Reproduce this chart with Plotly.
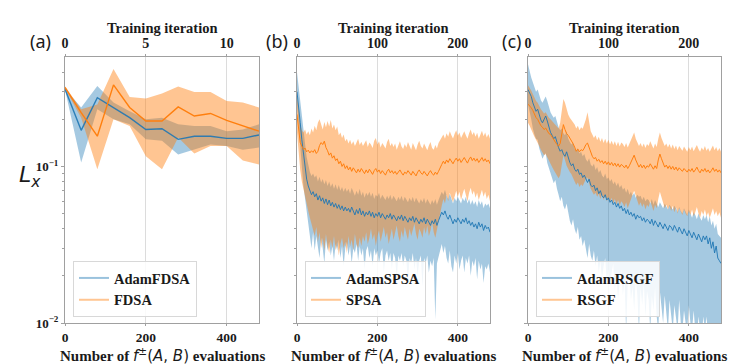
import plotly.graph_objects as go

# ---------------- data ----------------
# panel (a): 13 training iterations, 40 evaluations each
evals_a = [0, 40, 80, 120, 160, 200, 240, 280, 320, 360, 400, 440, 480]
adamfdsa_mean = [0.312, 0.170, 0.275, 0.238, 0.205, 0.172, 0.174, 0.149, 0.156, 0.156, 0.151, 0.151, 0.159]
adamfdsa_hi = [0.314, 0.238, 0.327, 0.256, 0.225, 0.200, 0.205, 0.186, 0.181, 0.181, 0.168, 0.172, 0.186]
adamfdsa_lo = [0.310, 0.106, 0.232, 0.200, 0.186, 0.149, 0.146, 0.119, 0.128, 0.138, 0.135, 0.128, 0.132]
fdsa_mean = [0.320, 0.221, 0.156, 0.332, 0.238, 0.195, 0.195, 0.240, 0.210, 0.218, 0.197, 0.181, 0.168]
fdsa_hi = [0.325, 0.232, 0.249, 0.419, 0.278, 0.272, 0.292, 0.324, 0.299, 0.299, 0.262, 0.256, 0.238]
fdsa_lo = [0.315, 0.205, 0.096, 0.200, 0.181, 0.116, 0.096, 0.153, 0.121, 0.135, 0.135, 0.109, 0.103]

# panels (b), (c): evaluations 0..480 every 4 (2 evaluations per iteration)
evals_bc = list(range(0, 481, 4))

adamspsa_mean = [0.300,0.245,0.190,0.148,0.118,0.097,0.083,0.075,0.071,0.066,
 0.069,0.064,0.067,0.061,0.065,0.060,0.063,0.058,0.062,0.057,
 0.061,0.056,0.059,0.055,0.058,0.054,0.057,0.053,0.056,0.052,
 0.055,0.052,0.054,0.051,0.055,0.052,0.049,0.053,0.050,0.054,
 0.049,0.052,0.048,0.051,0.049,0.052,0.048,0.051,0.047,0.050,
 0.048,0.051,0.047,0.050,0.048,0.046,0.049,0.047,0.050,0.046,
 0.049,0.047,0.045,0.048,0.046,0.049,0.045,0.048,0.046,0.044,
 0.047,0.045,0.048,0.044,0.047,0.045,0.043,0.046,0.044,0.047,
 0.043,0.046,0.044,0.042,0.045,0.043,0.046,0.042,0.045,0.048,
 0.051,0.049,0.052,0.048,0.046,0.049,0.045,0.043,0.046,0.044,
 0.047,0.045,0.043,0.046,0.044,0.047,0.043,0.045,0.042,0.044,
 0.041,0.043,0.040,0.044,0.041,0.043,0.039,0.042,0.040,0.041,
 0.038]
adamspsa_hi = [0.400,0.330,0.270,0.215,0.170,0.140,0.115,0.100,0.092,0.087,
 0.090,0.085,0.088,0.080,0.086,0.079,0.083,0.077,0.082,0.075,
 0.080,0.074,0.078,0.072,0.077,0.071,0.076,0.070,0.074,0.069,
 0.073,0.069,0.072,0.067,0.073,0.069,0.065,0.070,0.066,0.072,
 0.065,0.069,0.063,0.068,0.065,0.069,0.064,0.068,0.062,0.066,
 0.064,0.068,0.062,0.066,0.064,0.061,0.065,0.062,0.066,0.061,
 0.065,0.062,0.060,0.064,0.061,0.065,0.060,0.064,0.061,0.059,
 0.063,0.060,0.064,0.059,0.063,0.060,0.058,0.062,0.059,0.063,
 0.058,0.062,0.059,0.057,0.061,0.058,0.062,0.057,0.061,0.065,
 0.069,0.066,0.071,0.065,0.062,0.067,0.061,0.058,0.063,0.060,
 0.064,0.061,0.058,0.063,0.060,0.064,0.058,0.062,0.057,0.061,
 0.057,0.060,0.055,0.061,0.057,0.060,0.054,0.058,0.056,0.058,
 0.054]
adamspsa_lo = [0.250,0.200,0.140,0.100,0.075,0.058,0.048,0.042,0.036,0.030,
 0.038,0.029,0.036,0.031,0.026,0.035,0.030,0.024,0.034,0.029,
 0.033,0.027,0.031,0.025,0.032,0.029,0.034,0.026,0.031,0.023,
 0.030,0.033,0.027,0.031,0.024,0.030,0.028,0.032,0.025,0.031,
 0.027,0.030,0.022,0.029,0.031,0.026,0.029,0.023,0.030,0.027,
 0.029,0.024,0.028,0.030,0.021,0.027,0.029,0.025,0.028,0.022,
 0.028,0.026,0.019,0.027,0.025,0.028,0.023,0.027,0.025,0.018,
 0.026,0.024,0.028,0.022,0.026,0.020,0.025,0.027,0.017,0.026,
 0.024,0.027,0.021,0.025,0.023,0.026,0.0105,0.024,0.027,0.029,
 0.032,0.028,0.031,0.026,0.024,0.029,0.023,0.021,0.027,0.024,
 0.028,0.022,0.025,0.027,0.021,0.026,0.024,0.027,0.020,0.025,
 0.023,0.026,0.019,0.025,0.022,0.024,0.018,0.023,0.022,0.024,
 0.021]
spsa_mean = [0.215,0.175,0.142,0.135,0.128,0.131,0.124,0.127,0.122,0.126,
 0.123,0.128,0.121,0.125,0.136,0.142,0.138,0.145,0.132,0.126,
 0.118,0.122,0.113,0.117,0.109,0.112,0.104,0.108,0.100,0.104,
 0.097,0.101,0.095,0.099,0.093,0.098,0.094,0.091,0.096,0.092,
 0.097,0.093,0.090,0.095,0.091,0.096,0.092,0.089,0.094,0.097,
 0.092,0.095,0.090,0.094,0.091,0.088,0.093,0.096,0.091,0.094,
 0.090,0.093,0.089,0.092,0.095,0.091,0.088,0.092,0.090,0.094,
 0.091,0.088,0.093,0.090,0.087,0.092,0.095,0.091,0.089,0.093,
 0.090,0.087,0.091,0.094,0.090,0.088,0.092,0.089,0.093,0.097,
 0.103,0.108,0.104,0.110,0.106,0.112,0.107,0.104,0.109,0.113,
 0.108,0.112,0.106,0.110,0.114,0.109,0.105,0.111,0.115,0.109,
 0.113,0.108,0.112,0.106,0.110,0.114,0.108,0.112,0.107,0.110,
 0.104]
spsa_hi = [0.280,0.240,0.185,0.170,0.165,0.172,0.160,0.168,0.158,0.175,
 0.165,0.182,0.170,0.190,0.200,0.185,0.172,0.192,0.178,0.195,
 0.180,0.198,0.175,0.185,0.170,0.180,0.158,0.165,0.152,0.160,
 0.145,0.150,0.140,0.148,0.138,0.145,0.135,0.142,0.150,0.137,
 0.144,0.135,0.140,0.147,0.133,0.142,0.138,0.131,0.146,0.152,
 0.138,0.145,0.132,0.141,0.136,0.130,0.143,0.150,0.135,0.141,
 0.133,0.140,0.128,0.137,0.145,0.134,0.129,0.139,0.132,0.143,
 0.136,0.128,0.141,0.133,0.127,0.138,0.146,0.135,0.130,0.140,
 0.132,0.127,0.136,0.143,0.131,0.128,0.137,0.130,0.141,0.148,
 0.152,0.160,0.150,0.163,0.155,0.168,0.158,0.151,0.162,0.170,
 0.157,0.165,0.152,0.161,0.168,0.158,0.150,0.163,0.172,0.159,
 0.166,0.155,0.164,0.150,0.160,0.169,0.156,0.165,0.153,0.161,
 0.150]
spsa_lo = [0.165,0.125,0.095,0.080,0.070,0.064,0.058,0.052,0.047,0.043,
 0.040,0.036,0.041,0.033,0.038,0.030,0.035,0.029,0.037,0.031,
 0.028,0.034,0.030,0.036,0.029,0.033,0.027,0.032,0.035,0.030,
 0.033,0.028,0.036,0.031,0.034,0.029,0.037,0.032,0.030,0.035,
 0.031,0.036,0.033,0.038,0.032,0.035,0.040,0.034,0.037,0.031,
 0.036,0.039,0.033,0.037,0.041,0.035,0.038,0.032,0.036,0.040,
 0.034,0.038,0.042,0.036,0.033,0.039,0.035,0.041,0.037,0.034,
 0.040,0.036,0.039,0.043,0.037,0.034,0.040,0.038,0.035,0.041,
 0.037,0.042,0.036,0.039,0.044,0.038,0.035,0.041,0.045,0.050,
 0.056,0.062,0.058,0.066,0.060,0.068,0.063,0.059,0.065,0.070,
 0.064,0.069,0.061,0.067,0.072,0.065,0.060,0.068,0.073,0.066,
 0.070,0.063,0.068,0.061,0.066,0.071,0.064,0.069,0.062,0.066,
 0.060]

adamrsgf_mean = [0.310,0.295,0.280,0.255,0.235,0.225,0.232,0.210,0.198,0.190,
 0.200,0.210,0.195,0.178,0.165,0.158,0.150,0.155,0.140,0.132,
 0.125,0.128,0.120,0.116,0.124,0.112,0.106,0.101,0.104,0.096,
 0.093,0.096,0.089,0.091,0.085,0.088,0.082,0.079,0.083,0.076,
 0.074,0.076,0.070,0.073,0.067,0.070,0.065,0.063,0.066,0.061,
 0.063,0.059,0.061,0.057,0.059,0.055,0.058,0.054,0.056,0.052,
 0.054,0.050,0.053,0.049,0.051,0.048,0.050,0.046,0.049,0.047,
 0.048,0.045,0.047,0.044,0.046,0.045,0.043,0.046,0.042,0.045,
 0.043,0.041,0.044,0.042,0.040,0.043,0.041,0.039,0.042,0.041,
 0.039,0.042,0.040,0.038,0.041,0.039,0.037,0.040,0.038,0.036,
 0.039,0.037,0.035,0.038,0.036,0.034,0.037,0.035,0.033,0.036,
 0.034,0.036,0.032,0.035,0.030,0.033,0.028,0.031,0.026,0.025,
 0.024]
adamrsgf_hi = [0.450,0.400,0.370,0.345,0.320,0.300,0.310,0.285,0.265,0.255,
 0.270,0.280,0.262,0.240,0.222,0.212,0.205,0.210,0.190,0.178,
 0.170,0.175,0.163,0.158,0.168,0.151,0.143,0.138,0.142,0.130,
 0.126,0.131,0.121,0.124,0.116,0.120,0.111,0.107,0.113,0.103,
 0.100,0.104,0.095,0.099,0.091,0.095,0.088,0.085,0.090,0.083,
 0.085,0.080,0.083,0.077,0.080,0.075,0.079,0.073,0.076,0.071,
 0.073,0.068,0.072,0.066,0.069,0.065,0.068,0.063,0.066,0.064,
 0.065,0.061,0.064,0.060,0.062,0.061,0.058,0.062,0.057,0.061,
 0.058,0.055,0.059,0.057,0.054,0.058,0.055,0.053,0.057,0.055,
 0.053,0.056,0.054,0.051,0.055,0.052,0.050,0.054,0.051,0.049,
 0.053,0.050,0.047,0.051,0.049,0.046,0.050,0.047,0.045,0.049,
 0.046,0.049,0.044,0.048,0.042,0.045,0.040,0.043,0.037,0.036,
 0.035]
adamrsgf_lo = [0.250,0.225,0.200,0.175,0.160,0.150,0.148,0.130,0.120,0.112,
 0.118,0.122,0.105,0.098,0.090,0.084,0.078,0.082,0.072,0.066,
 0.060,0.064,0.056,0.053,0.058,0.050,0.045,0.042,0.046,0.040,
 0.037,0.041,0.034,0.036,0.031,0.034,0.029,0.026,0.032,0.027,
 0.025,0.029,0.023,0.027,0.021,0.025,0.019,0.023,0.026,0.018,
 0.022,0.017,0.021,0.024,0.016,0.020,0.014,0.019,0.022,0.015,
 0.019,0.009,0.018,0.021,0.014,0.017,0.012,0.019,0.015,0.009,
 0.017,0.013,0.018,0.011,0.016,0.014,0.009,0.015,0.012,0.017,
 0.011,0.009,0.016,0.013,0.010,0.015,0.012,0.009,0.014,0.011,
 0.009,0.013,0.011,0.009,0.014,0.010,0.009,0.012,0.010,0.009,
 0.013,0.010,0.009,0.012,0.009,0.008,0.011,0.009,0.008,0.011,
 0.009,0.011,0.008,0.010,0.008,0.009,0.007,0.008,0.007,0.007,
 0.007]
rsgf_mean = [0.250,0.245,0.237,0.228,0.215,0.205,0.200,0.190,0.182,0.178,
 0.172,0.176,0.168,0.162,0.160,0.155,0.150,0.143,0.138,0.135,
 0.140,0.160,0.185,0.172,0.162,0.158,0.152,0.148,0.140,0.133,
 0.125,0.129,0.124,0.128,0.126,0.131,0.138,0.141,0.132,0.121,
 0.116,0.112,0.114,0.108,0.111,0.106,0.109,0.104,0.108,0.103,
 0.107,0.102,0.106,0.101,0.105,0.100,0.104,0.099,0.103,0.101,
 0.098,0.102,0.097,0.101,0.106,0.112,0.118,0.110,0.104,0.099,
 0.103,0.098,0.102,0.097,0.101,0.099,0.104,0.100,0.096,0.101,
 0.097,0.110,0.120,0.112,0.104,0.099,0.102,0.097,0.101,0.096,
 0.100,0.095,0.099,0.094,0.098,0.096,0.093,0.097,0.094,0.092,
 0.096,0.093,0.097,0.092,0.095,0.099,0.094,0.091,0.096,0.093,
 0.097,0.092,0.095,0.091,0.094,0.098,0.093,0.096,0.092,0.095,
 0.091]
rsgf_hi = [0.330,0.320,0.305,0.290,0.275,0.262,0.255,0.240,0.232,0.225,
 0.218,0.222,0.212,0.205,0.200,0.195,0.190,0.183,0.178,0.175,
 0.190,0.225,0.270,0.255,0.232,0.215,0.205,0.198,0.192,0.185,
 0.175,0.182,0.170,0.178,0.174,0.185,0.200,0.222,0.190,0.168,
 0.160,0.152,0.158,0.147,0.155,0.144,0.152,0.141,0.150,0.140,
 0.148,0.138,0.146,0.137,0.145,0.135,0.144,0.134,0.142,0.139,
 0.133,0.141,0.132,0.140,0.148,0.158,0.165,0.150,0.142,0.135,
 0.141,0.133,0.140,0.131,0.139,0.135,0.145,0.137,0.130,0.140,
 0.133,0.150,0.165,0.152,0.142,0.135,0.140,0.132,0.139,0.130,
 0.138,0.129,0.136,0.127,0.135,0.131,0.126,0.134,0.128,0.124,
 0.133,0.127,0.134,0.125,0.131,0.137,0.129,0.124,0.132,0.127,
 0.135,0.126,0.131,0.124,0.130,0.136,0.127,0.133,0.125,0.131,
 0.124]
rsgf_lo = [0.190,0.182,0.172,0.165,0.155,0.148,0.143,0.135,0.128,0.122,
 0.118,0.120,0.113,0.108,0.104,0.099,0.095,0.091,0.087,0.084,
 0.088,0.102,0.118,0.110,0.101,0.097,0.092,0.089,0.085,0.080,
 0.076,0.079,0.074,0.077,0.075,0.079,0.083,0.085,0.078,0.072,
 0.069,0.066,0.068,0.064,0.067,0.062,0.066,0.061,0.065,0.060,
 0.064,0.059,0.063,0.058,0.062,0.057,0.061,0.056,0.060,0.058,
 0.055,0.059,0.054,0.058,0.062,0.066,0.070,0.064,0.060,0.056,
 0.059,0.055,0.058,0.053,0.057,0.055,0.060,0.056,0.052,0.057,
 0.054,0.062,0.069,0.063,0.058,0.054,0.057,0.053,0.056,0.052,
 0.056,0.051,0.055,0.050,0.054,0.052,0.049,0.053,0.050,0.048,
 0.052,0.049,0.053,0.048,0.051,0.055,0.050,0.047,0.052,0.049,
 0.053,0.048,0.051,0.047,0.050,0.054,0.049,0.052,0.048,0.051,
 0.047]

panel_labels = ["(a)", "(b)", "(c)"]
legend_names = [("AdamFDSA", "FDSA"), ("AdamSPSA", "SPSA"), ("AdamRSGF", "RSGF")]
bottom_ticks = [0, 200, 400]
top_ticks = [[0, 5, 10], [0, 100, 200], [0, 100, 200]]
top_ranges = [[0, 12], [0, 240], [0, 240]]
y_ticks = [0.01, 0.1]
y_ticktext = ["<b>10<sup>−2</sup></b>", "<b>10<sup>−1</sup></b>"]
y_minor = [0.02, 0.03, 0.04, 0.05, 0.06, 0.07, 0.08, 0.09, 0.2, 0.3, 0.4]

# ---------------- styling ----------------
OFF = 8                      # page body margin of the html page
W, H = 750 - OFF, 364 - OFF
def PX(x):
    return (x - OFF) / W
def PY(y):
    return 1 - (y - OFF) / H

BLUE = "rgba(31,119,180,0.9)"
ORANGE = "#ff7f0e"
BLUE_FILL = "rgba(31,119,180,0.40)"
ORANGE_FILL = "rgba(255,127,14,0.45)"
AXC = "#a0a0a0"
TXT = "#1a1a1a"
SERIF = "Liberation Serif"
x_px = [(65, 259), (297, 490), (528, 721)]
y_top, y_bot = 57, 323
ydom = [PY(y_bot), PY(y_top)]

fig = go.Figure()

panels = [
    (evals_a, adamfdsa_mean, adamfdsa_lo, adamfdsa_hi, fdsa_mean, fdsa_lo, fdsa_hi, 1.4),
    (evals_bc, adamspsa_mean, adamspsa_lo, adamspsa_hi, spsa_mean, spsa_lo, spsa_hi, 1.0),
    (evals_bc, adamrsgf_mean, adamrsgf_lo, adamrsgf_hi, rsgf_mean, rsgf_lo, rsgf_hi, 1.0),
]

for i, (ev, bm, bl, bh, om, ol, oh, lw) in enumerate(panels):
    xa = "x" if i == 0 else f"x{i+1}"
    ya = "y" if i == 0 else f"y{i+1}"
    leg = "legend" if i == 0 else f"legend{i+1}"
    fig.add_trace(go.Scatter(x=list(ev) + list(ev)[::-1], y=list(bh) + list(bl)[::-1],
                             fill="toself", fillcolor=BLUE_FILL, line=dict(width=0),
                             mode="lines", xaxis=xa, yaxis=ya, showlegend=False, hoverinfo="skip"))
    fig.add_trace(go.Scatter(x=list(ev) + list(ev)[::-1], y=list(oh) + list(ol)[::-1],
                             fill="toself", fillcolor=ORANGE_FILL, line=dict(width=0),
                             mode="lines", xaxis=xa, yaxis=ya, showlegend=False, hoverinfo="skip"))
    fig.add_trace(go.Scatter(x=ev, y=bm, mode="lines", line=dict(color=BLUE, width=lw),
                             xaxis=xa, yaxis=ya, showlegend=False))
    fig.add_trace(go.Scatter(x=ev, y=om, mode="lines", line=dict(color=ORANGE, width=lw),
                             xaxis=xa, yaxis=ya, showlegend=False))
    # invisible trace so that the top (iteration) axis is drawn
    fig.add_trace(go.Scatter(x=top_ranges[i], y=[None, None], mode="lines",
                             xaxis=f"x{i+4}", yaxis=ya, showlegend=False, hoverinfo="skip"))
    # legend entries
    fig.add_trace(go.Scatter(x=[None], y=[None], mode="lines", name=legend_names[i][0],
                             line=dict(color="rgba(31,119,180,0.45)", width=2),
                             xaxis=xa, yaxis=ya, legend=leg))
    fig.add_trace(go.Scatter(x=[None], y=[None], mode="lines", name=legend_names[i][1],
                             line=dict(color="rgba(255,127,14,0.45)", width=2),
                             xaxis=xa, yaxis=ya, legend=leg))

layout = dict(width=W, height=H, margin=dict(l=0, r=0, t=0, b=0, autoexpand=False),
              paper_bgcolor="white", plot_bgcolor="white", showlegend=True)

for i in range(3):
    sfx = "" if i == 0 else str(i + 1)
    x0, x1 = x_px[i]
    dom = [PX(x0), PX(x1)]
    layout[f"xaxis{sfx}"] = dict(
        domain=dom, range=[0, 480], anchor=f"y{sfx}", tickvals=bottom_ticks,
        ticktext=[f"<b>{t}</b>" for t in bottom_ticks],
        tickfont=dict(family=SERIF, size=13.5, color=TXT),
        showline=True, linecolor=AXC, linewidth=1, mirror=True,
        ticks="outside", ticklen=2, tickcolor=AXC,
        showgrid=True, gridcolor="#dcdcdc", gridwidth=1, zeroline=False)
    layout[f"xaxis{i+4}"] = dict(
        overlaying=f"x{sfx}", anchor=f"y{sfx}", side="top", range=top_ranges[i],
        tickvals=top_ticks[i], ticktext=[f"<b>{t}</b>" for t in top_ticks[i]],
        tickfont=dict(family=SERIF, size=14, color=TXT),
        showline=True, linecolor=AXC, linewidth=1,
        ticks="outside", ticklen=2, tickcolor=AXC, showgrid=False, zeroline=False)
    layout[f"yaxis{sfx}"] = dict(
        domain=ydom, type="log", range=[-2, -0.301], anchor=f"x{sfx}",
        tickvals=y_ticks, ticktext=y_ticktext, showticklabels=(i == 0),
        tickfont=dict(family=SERIF, size=13, color=TXT),
        showline=True, linecolor=AXC, linewidth=1, mirror=True,
        ticks="outside", ticklen=3, tickcolor=AXC, showgrid=False, zeroline=False,
        minor=dict(tickvals=y_minor, ticks="outside", ticklen=2, tickcolor=AXC, showgrid=False))
    legkey = "legend" if i == 0 else f"legend{i+1}"
    layout[legkey] = dict(
        x=PX(x0 + 8), y=PY(317), xanchor="left", yanchor="bottom",
        bgcolor="rgba(255,255,255,0.85)", bordercolor="#d8d8d8", borderwidth=1,
        font=dict(family=SERIF, size=14.5, color=TXT, weight="bold"),
        itemwidth=30, tracegroupgap=0)

fig.update_layout(**layout)

ann = []
for i in range(3):
    x0, x1 = x_px[i]
    cx = (x0 + x1) / 2
    ann.append(dict(text="<b>Training iteration</b>", x=PX(cx), y=PY(28), xref="paper", yref="paper",
                    xanchor="center", yanchor="middle",
                    showarrow=False, font=dict(family=SERIF, size=14.5, color=TXT)))
    ann.append(dict(text='<b>Number of </b><span style="font-family:DejaVu Sans"><i>f</i><sup>±</sup>(<i>A</i>, <i>B</i>)</span><b> evaluations</b>',
                    x=PX(cx), y=PY(355), xref="paper", yref="paper",
                    xanchor="center", yanchor="middle",
                    showarrow=False, font=dict(family=SERIF, size=15, color=TXT)))
label_x = [40, 277, 512]
for i in range(3):
    ann.append(dict(text=panel_labels[i], x=PX(label_x[i]), y=PY(41), xref="paper", yref="paper",
                    xanchor="center", yanchor="middle",
                    showarrow=False, font=dict(family="Noto Sans", size=18, color=TXT)))
ann.append(dict(text="<i>L</i><sub><i>x</i></sub>", x=PX(30), y=PY(176), xref="paper", yref="paper",
                xanchor="center", yanchor="middle",
                showarrow=False, font=dict(family="DejaVu Sans", size=22, color=TXT)))
fig.update_layout(annotations=ann)

fig.write_html("out.html")
